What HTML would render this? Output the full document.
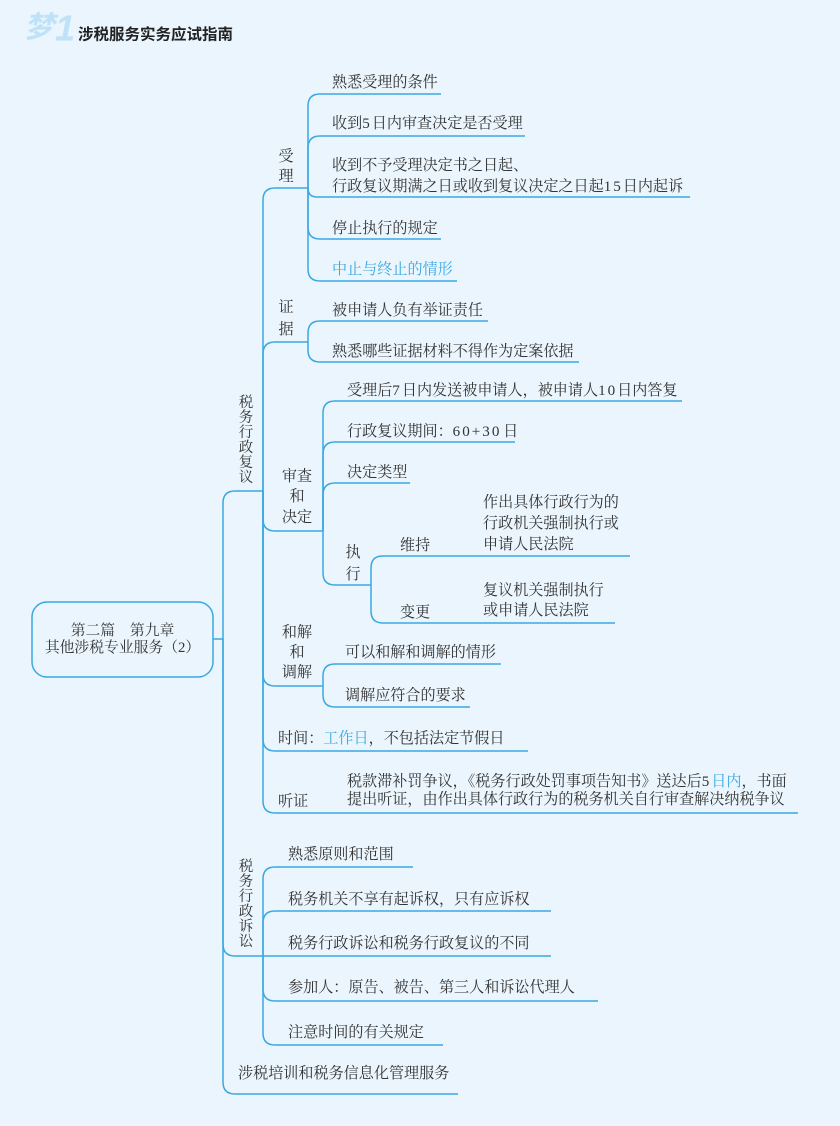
<!DOCTYPE html>
<html>
<head>
<meta charset="utf-8">
<style>
  html, body { margin: 0; padding: 0; }
  body { width: 840px; height: 1126px; background: #eaf5fd; overflow: hidden; }
  svg { display: block; }
  .t { font-family: "Liberation Serif", "Noto Serif CJK SC", serif; font-size: 15.1px; fill: #333; dominant-baseline: central; }
  .s { font-size: 14.5px; }
  .r { font-size: 14.8px; }
  .m { text-anchor: middle; }
  .b { fill: #3aa8e2; }
  .d { letter-spacing: 2px; }
  .ln { fill: none; stroke: #3aa8e2; stroke-width: 1.5; }
</style>
</head>
<body>
<svg width="840" height="1126" viewBox="0 0 840 1126" xmlns="http://www.w3.org/2000/svg">
  <!-- header -->
  <text x="24" y="28" style="font-family:'Liberation Sans','Noto Sans CJK SC',sans-serif;font-size:30px;font-weight:bold;font-style:italic;fill:#bfe2f8;dominant-baseline:central;">梦</text>
  <text x="55" y="28" style="font-family:'Liberation Sans',sans-serif;font-size:36px;font-weight:bold;font-style:italic;fill:#bfe2f8;dominant-baseline:central;">1</text>
  <text x="78" y="35" style="font-family:'Liberation Sans','Noto Sans CJK SC',sans-serif;font-size:15.5px;font-weight:bold;fill:#222;dominant-baseline:central;">涉税服务实务应试指南</text>

  <!-- root -->
  <rect x="32" y="602" width="181" height="75" rx="15" ry="15" class="ln"/>
  <text x="122.5" y="631" class="t r m">第二篇　第九章</text>
  <text x="122.5" y="648" class="t r m">其他涉税专业服务（2）</text>

  <!-- connectors level 0 -->
  <path class="ln" d="M213,639 H223"/>
  <path class="ln" d="M223,639 V503 Q223,491 235,491 H263"/>
  <path class="ln" d="M223,639 V944 Q223,956 235,956 H263"/>
  <path class="ln" d="M223,639 V1082 Q223,1094 235,1094 H458"/>

  <!-- level 1: 税务行政复议 -->
  <path class="ln" d="M263,491 V200 Q263,188 275,188 H308"/>
  <path class="ln" d="M263,491 V354 Q263,342 275,342 H308"/>
  <path class="ln" d="M263,491 V519 Q263,531 275,531 H323"/>
  <path class="ln" d="M263,491 V674 Q263,686 275,686 H323"/>
  <path class="ln" d="M263,491 V739 Q263,751 275,751 H528"/>
  <path class="ln" d="M263,491 V801 Q263,813 275,813 H798"/>

  <!-- 受理 -->
  <path class="ln" d="M308,188 V106 Q308,94 320,94 H441"/>
  <path class="ln" d="M308,188 V148 Q308,136 320,136 H525"/>
  <path class="ln" d="M308,188 Q308,197 317,197 H690"/>
  <path class="ln" d="M308,188 V227 Q308,239 320,239 H441"/>
  <path class="ln" d="M308,188 V269 Q308,281 320,281 H457"/>

  <!-- 证据 -->
  <path class="ln" d="M308,342 V333 Q308,321 320,321 H488"/>
  <path class="ln" d="M308,342 V350 Q308,362 320,362 H579"/>

  <!-- 审查和决定 -->
  <path class="ln" d="M323,531 V413 Q323,401 335,401 H682"/>
  <path class="ln" d="M323,531 V454 Q323,442 335,442 H515"/>
  <path class="ln" d="M323,531 V495 Q323,483 335,483 H410"/>
  <path class="ln" d="M323,531 V573 Q323,585 335,585 H371"/>

  <!-- 执行 -->
  <path class="ln" d="M371,585 V568 Q371,556 383,556 H630"/>
  <path class="ln" d="M371,585 V611 Q371,623 383,623 H615"/>

  <!-- 和解和调解 -->
  <path class="ln" d="M323,686 V676 Q323,664 335,664 H501"/>
  <path class="ln" d="M323,686 V695 Q323,707 335,707 H470"/>

  <!-- 税务行政诉讼 -->
  <path class="ln" d="M263,956 V879 Q263,867 275,867 H413"/>
  <path class="ln" d="M263,956 V923 Q263,911 275,911 H551"/>
  <path class="ln" d="M263,956 H551"/>
  <path class="ln" d="M263,956 V989 Q263,1001 275,1001 H598"/>
  <path class="ln" d="M263,956 V1033 Q263,1045 275,1045 H443"/>

  <!-- 税务行政复议 label -->
  <text x="246" y="403" class="t s m">税</text>
  <text x="246" y="418" class="t s m">务</text>
  <text x="246" y="433" class="t s m">行</text>
  <text x="246" y="448" class="t s m">政</text>
  <text x="246" y="463" class="t s m">复</text>
  <text x="246" y="478" class="t s m">议</text>

  <!-- 受理 -->
  <text x="286" y="157" class="t m">受</text>
  <text x="286" y="177" class="t m">理</text>
  <text x="332" y="83" class="t">熟悉受理的条件</text>
  <text x="332" y="124" class="t">收到<tspan class="d">5</tspan>日内审查决定是否受理</text>
  <text x="332" y="166" class="t">收到不予受理决定书之日起、</text>
  <text x="332" y="187" class="t">行政复议期满之日或收到复议决定之日起<tspan class="d">15</tspan>日内起诉</text>
  <text x="332" y="229" class="t">停止执行的规定</text>
  <text x="332" y="270" class="t b">中止与终止的情形</text>

  <!-- 证据 -->
  <text x="286" y="308" class="t m">证</text>
  <text x="286" y="330" class="t m">据</text>
  <text x="332" y="311" class="t">被申请人负有举证责任</text>
  <text x="332" y="352" class="t">熟悉哪些证据材料不得作为定案依据</text>

  <!-- 审查和决定 -->
  <text x="297" y="477" class="t m">审查</text>
  <text x="297" y="497" class="t m">和</text>
  <text x="297" y="518" class="t m">决定</text>
  <text x="347" y="391" class="t">受理后<tspan class="d">7</tspan>日内发送被申请人，被申请人<tspan class="d">10</tspan>日内答复</text>
  <text x="347" y="432" class="t">行政复议期间：<tspan class="d">60+3</tspan>0 日</text>
  <text x="347" y="473" class="t">决定类型</text>
  <text x="353" y="553" class="t m">执</text>
  <text x="353" y="575" class="t m">行</text>
  <text x="400" y="546" class="t">维持</text>
  <text x="400" y="613" class="t">变更</text>
  <text x="483" y="503" class="t">作出具体行政行为的</text>
  <text x="483" y="524" class="t">行政机关强制执行或</text>
  <text x="483" y="545" class="t">申请人民法院</text>
  <text x="483" y="591" class="t">复议机关强制执行</text>
  <text x="483" y="611" class="t">或申请人民法院</text>

  <!-- 和解和调解 -->
  <text x="297" y="633" class="t m">和解</text>
  <text x="297" y="653" class="t m">和</text>
  <text x="297" y="673" class="t m">调解</text>
  <text x="345" y="653" class="t">可以和解和调解的情形</text>
  <text x="345" y="696" class="t">调解应符合的要求</text>

  <!-- 时间 -->
  <text x="278" y="739" class="t">时间：<tspan class="b">工作日</tspan>，不包括法定节假日</text>

  <!-- 听证 -->
  <text x="278" y="802" class="t">听证</text>
  <text x="347" y="782" class="t">税款滞补罚争议，《税务行政处罚事项告知书》送达后<tspan class="d">5</tspan><tspan class="b">日内</tspan>，书面</text>
  <text x="347" y="800" class="t">提出听证，由作出具体行政行为的税务机关自行审查解决纳税争议</text>

  <!-- 税务行政诉讼 label -->
  <text x="246" y="867" class="t s m">税</text>
  <text x="246" y="882" class="t s m">务</text>
  <text x="246" y="897" class="t s m">行</text>
  <text x="246" y="912" class="t s m">政</text>
  <text x="246" y="927" class="t s m">诉</text>
  <text x="246" y="942" class="t s m">讼</text>

  <text x="288" y="855" class="t">熟悉原则和范围</text>
  <text x="288" y="900" class="t">税务机关不享有起诉权，只有应诉权</text>
  <text x="288" y="944" class="t">税务行政诉讼和税务行政复议的不同</text>
  <text x="288" y="988" class="t">参加人：原告、被告、第三人和诉讼代理人</text>
  <text x="288" y="1033" class="t">注意时间的有关规定</text>

  <!-- 涉税培训 -->
  <text x="238" y="1074" class="t">涉税培训和税务信息化管理服务</text>
</svg>
</body>
</html>
